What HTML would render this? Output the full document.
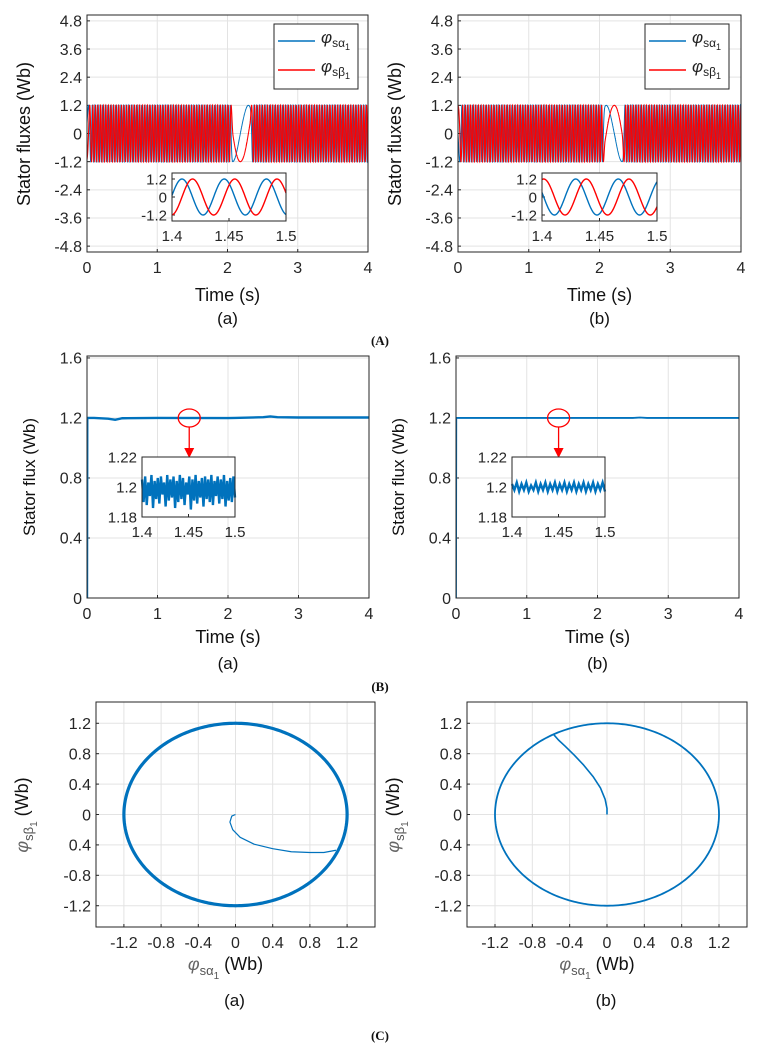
<!DOCTYPE html>
<html><head><meta charset="utf-8">
<style>
html,body{margin:0;padding:0;background:#fff;}
svg{display:block;font-family:"Liberation Sans",sans-serif;}
</style></head>
<body>
<svg id="fig" width="761" height="1047" viewBox="0 0 761 1047" xmlns="http://www.w3.org/2000/svg"></svg>
<script>
// ---------- data ----------
const timeTicks = [0, 1, 2, 3, 4];
const fluxTicksA = [-4.8, -3.6, -2.4, -1.2, 0, 1.2, 2.4, 3.6, 4.8];
const insetTimeTicks = [1.4, 1.45, 1.5];
const insetFluxTicksA = [-1.2, 0, 1.2];
const fluxAmplitude = 1.2;
// electrical frequency knots (Hz) of the stator flux vector for (a) and (b)
const freqKnotTimesA = [0, 0.08, 2.03, 2.08, 2.2, 2.32, 2.37, 4];
const freqKnotValuesA = [6, 27, 27, 2.5, 2.0, 2.5, 27, 27];
const freqKnotTimesB = [0, 0.08, 2.03, 2.08, 2.2, 2.32, 2.37, 4];
const freqKnotValuesB = [6, 27, 27, 2.5, 2.0, 2.5, 27, 27];
const phaseOffsetA = -1.2;
const phaseOffsetB = 1.6;
// magnitude (B)
const magTicks = [0, 0.4, 0.8, 1.2, 1.6];
const magTimes = [0, 0.004, 0.1, 0.3, 0.4, 0.5, 1.0, 2.0, 2.1, 2.5, 2.6, 2.7, 3.0, 4.0];
const magValuesA = [0, 1.2, 1.2, 1.195, 1.188, 1.198, 1.2, 1.199, 1.2, 1.205, 1.21, 1.205, 1.203, 1.203];
const magValuesB = [0, 1.2, 1.2, 1.2, 1.2, 1.2, 1.2, 1.2, 1.2, 1.2, 1.203, 1.2, 1.2, 1.2];
const insetMagTicks = [1.18, 1.2, 1.22];
const insetNoiseA = [1.205,1.19,1.207,1.188,1.203,1.194,1.208,1.186,1.204,1.192,1.206,1.189,1.207,1.195,1.203,1.187,1.208,1.191,1.205,1.193,1.207,1.186,1.204,1.19,1.208,1.192,1.206,1.188,1.203,1.195,1.207,1.185,1.205,1.191,1.208,1.189,1.204,1.193,1.206,1.187,1.207,1.192,1.205,1.19,1.208,1.188,1.204,1.194,1.207,1.189,1.205,1.192,1.208,1.187,1.204,1.191,1.206,1.19,1.207,1.193];
const insetNoiseB = [1.202,1.198,1.203,1.197,1.202,1.198,1.203,1.197,1.201,1.198,1.203,1.197,1.202,1.198,1.203,1.197,1.202,1.198,1.203,1.197,1.202,1.198,1.203,1.197,1.202,1.198,1.203,1.197,1.202,1.198,1.203,1.197,1.202,1.198,1.203,1.197,1.202,1.198,1.203,1.197];
// trajectory (C)
const trajTicksX = [-1.2, -0.8, -0.4, 0, 0.4, 0.8, 1.2];
const trajTicksY = [-1.2, -0.8, -0.4, 0, 0.4, 0.8, 1.2];
const trajTickLabelsY = ["-1.2", "-0.8", "0.4", "0", "0.4", "0.8", "1.2"];
const steadyRadius = 1.2;
const transientXA = [0, -0.04, -0.06, -0.03, 0.05, 0.2, 0.4, 0.6, 0.8, 0.95, 1.08];
const transientYA = [0, -0.02, -0.1, -0.2, -0.3, -0.39, -0.45, -0.49, -0.5, -0.5, -0.47];
const transientXB = [0, 0.0, -0.02, -0.07, -0.15, -0.25, -0.35, -0.45, -0.52, -0.57];
const transientYB = [0, 0.08, 0.2, 0.35, 0.5, 0.65, 0.78, 0.9, 0.98, 1.05];

// ---------- helpers ----------
const NS = "http://www.w3.org/2000/svg";
const svg = document.getElementById("fig");
function mk(tag, attrs, parent) {
  const e = document.createElementNS(NS, tag);
  for (const k in attrs) e.setAttribute(k, attrs[k]);
  (parent || svg).appendChild(e);
  return e;
}
function lin(d0, d1, r0, r1) { return v => r0 + (v - d0) * (r1 - r0) / (d1 - d0); }
function interp(xs, ys, x) {
  for (let i = 0; i < xs.length - 1; i++) {
    if (x <= xs[i + 1]) { const f = (x - xs[i]) / (xs[i + 1] - xs[i]); return ys[i] + f * (ys[i + 1] - ys[i]); }
  }
  return ys[ys.length - 1];
}
function pts(xs, ys, sx, sy) { return xs.map((x, i) => sx(x).toFixed(2) + "," + sy(ys[i]).toFixed(2)).join(" "); }
const BLUE = "#0072BD", RED = "#FF0000";

function axes(name, L, R, T, B, xd, yd, xt, yt, ytl, fs, xlabels, gridOn) {
  const g = mk("g", {});
  
  
  const sx = lin(xd[0], xd[1], L, R), sy = lin(yd[0], yd[1], B, T);
  mk("rect", {x: L, y: T, width: R - L, height: B - T, fill: "#fff"}, g);
  if (gridOn) {
    xt.forEach(v => { const l = mk("line", {x1: sx(v), x2: sx(v), y1: T, y2: B, stroke: "#e3e3e3", "stroke-width": 1}, g);
        });
    yt.forEach(v => { const l = mk("line", {x1: L, x2: R, y1: sy(v), y2: sy(v), stroke: "#e3e3e3", "stroke-width": 1}, g);
        });
  }
  xt.forEach((v, i) => {
    const t = mk("text", {x: sx(v), y: B + fs + 5, "font-size": fs, "text-anchor": "middle", fill: "#262626"}, g);
    t.textContent = xlabels ? xlabels[i] : String(v);
     
    mk("line", {x1: sx(v), x2: sx(v), y1: B, y2: B - 3, stroke: "#262626"}, g);
  });
  yt.forEach((v, i) => {
    const t = mk("text", {x: L - 5, y: sy(v) + fs * 0.36, "font-size": fs, "text-anchor": "end", fill: "#262626"}, g);
    t.textContent = ytl ? ytl[i] : String(v);
     
    mk("line", {x1: L, x2: L + 3, y1: sy(v), y2: sy(v), stroke: "#262626"}, g);
  });
  return {g, sx, sy, L, R, T, B};
}
function frame(ax) {
  const r = mk("rect", {x: ax.L, y: ax.T, width: ax.R - ax.L, height: ax.B - ax.T, fill: "none", stroke: "#262626", "stroke-width": 1}, ax.g);
   
}
function clipFor(ax, id) {
  const c = mk("clipPath", {id: id});
  mk("rect", {x: ax.L, y: ax.T, width: ax.R - ax.L, height: ax.B - ax.T}, c);
  return "url(#" + id + ")";
}
function text(x, y, s, fs, name, extra) {
  const t = mk("text", Object.assign({x: x, y: y, "font-size": fs, "text-anchor": "middle", fill: "#111"}, extra || {}));
  t.textContent = s;
  
  
  return t;
}
function phiLabel(x, y, sub, name, rotate) {
  const g = mk("g", rotate ? {transform: "rotate(-90 " + x + " " + y + ")"} : {});
  
  
  const t = mk("text", {x: x, y: y, "font-size": 18, fill: "#111", "text-anchor": "middle"}, g);
  const a = mk("tspan", {"font-style": "italic", fill: "#666"}, t); a.textContent = "φ";
  const b = mk("tspan", {"font-size": 13, dy: 5, fill: "#555"}, t); b.textContent = "s" + sub;
  const c = mk("tspan", {"font-size": 10, dy: 4, fill: "#555"}, t); c.textContent = "1";
  const d = mk("tspan", {dy: -9, "font-size": 18}, t); d.textContent = " (Wb)";
  return g;
}

// ---------- Panel A ----------
function phaseAt(tk, fk, off, t) {
  let th = off, step = 0.0005;
  for (let s = 0; s < t; s += step) th += 2 * Math.PI * interp(tk, fk, s) * Math.min(step, t - s);
  return th;
}
function panelA(tag, L, R, insL, insR, tk, fk, off) {
  const ax = axes("flux-axes-" + tag, L, R, 15, 252, [0, 4], [-5.05, 5.05], timeTicks, fluxTicksA, null, 16, null, true);
  const cp = clipFor(ax, "clipA" + tag);
  const N = 8000; let th = off; const tb = [], vb = [], vr = [];
  for (let i = 0; i <= N; i++) {
    const t = 4 * i / N;
    if (i > 0) th += 2 * Math.PI * interp(tk, fk, t) * (4 / N);
    tb.push(t); vb.push(fluxAmplitude * Math.cos(th)); vr.push(fluxAmplitude * Math.sin(th));
  }
  const pb = mk("polyline", {points: pts(tb, vb, ax.sx, ax.sy), fill: "none", stroke: BLUE, "stroke-width": 1, "clip-path": cp}, ax.g);
   
  const pr = mk("polyline", {points: pts(tb, vr, ax.sx, ax.sy), fill: "none", stroke: RED, "stroke-width": 1.1, "clip-path": cp}, ax.g);
   
  frame(ax);
  const lg = mk("g", {}, ax.g);
   
  mk("rect", {x: L + 187, y: 24, width: 84, height: 65, fill: "#fff", stroke: "#262626"}, lg);
  [[BLUE, 41, "α", "legend-entry-alpha"], [RED, 70, "β", "legend-entry-beta"]].forEach(e => {
    const eg = mk("g", {}, lg);
     
    mk("line", {x1: L + 191, x2: L + 228, y1: e[1], y2: e[1], stroke: e[0], "stroke-width": 1.5}, eg);
    const t = mk("text", {x: L + 234, y: e[1] + 2, "font-size": 17, fill: "#222"}, eg);
    const a = mk("tspan", {"font-style": "italic"}, t); a.textContent = "φ";
    const b = mk("tspan", {"font-size": 12, dy: 4}, t); b.textContent = "s" + e[2];
    const c = mk("tspan", {"font-size": 9, dy: 3}, t); c.textContent = "1";
  });
  const ia = axes("inset-flux-axes-" + tag, insL, insR, 173, 221, [1.4, 1.5], [-1.6, 1.6], insetTimeTicks, insetFluxTicksA, null, 15, ["1.4", "1.45", "1.5"], false);
  const th0 = phaseAt(tk, fk, off, 1.4);
  const it = [], ib = [], ir = [];
  for (let i = 0; i <= 300; i++) {
    const t = 1.4 + 0.1 * i / 300; const th2 = th0 + 2 * Math.PI * 27 * (t - 1.4);
    it.push(t); ib.push(fluxAmplitude * Math.cos(th2)); ir.push(fluxAmplitude * Math.sin(th2));
  }
  const q1 = mk("polyline", {points: pts(it, ib, ia.sx, ia.sy), fill: "none", stroke: BLUE, "stroke-width": 1.4}, ia.g);
   
  const q2 = mk("polyline", {points: pts(it, ir, ia.sx, ia.sy), fill: "none", stroke: RED, "stroke-width": 1.4}, ia.g);
   
  frame(ia);
  const cx = (L + R) / 2;
  text(L - 57, 134, "Stator fluxes (Wb)", 18, "y-axis-title", {transform: "rotate(-90 " + (L - 57) + " 134)"});
  text(cx, 301, "Time (s)", 18, "x-axis-title");
  text(cx, 324, tag === "a" ? "(a)" : "(b)", 17, "subfigure-label-" + tag);
}
panelA("a", 87, 368, 172, 286, freqKnotTimesA, freqKnotValuesA, phaseOffsetA);
panelA("b", 458, 741, 542, 657, freqKnotTimesB, freqKnotValuesB, phaseOffsetB);
text(380, 345, "(A)", 13, "section-label-A", {"font-family": "Liberation Serif", "font-weight": "bold"});

// ---------- Panel B ----------
function panelB(tag, L, R, insL, insR, vals, noise, lw) {
  const ax = axes("magnitude-axes-" + tag, L, R, 356, 598, [0, 4], [0, 1.613], timeTicks, magTicks, null, 16, null, true);
  const cp = clipFor(ax, "clipB" + tag);
  const p = mk("polyline", {points: pts(magTimes, vals, ax.sx, ax.sy), fill: "none", stroke: BLUE, "stroke-width": lw, "clip-path": cp}, ax.g);
   
  frame(ax);
  const ccx = ax.sx(1.45), ccy = ax.sy(1.2);
  const c = mk("ellipse", {cx: ccx, cy: ccy, rx: 11, ry: 9, fill: "none", stroke: RED, "stroke-width": 1.3}, ax.g);
   
  const ar = mk("line", {x1: ccx, x2: ccx, y1: ccy + 9, y2: 450, stroke: RED, "stroke-width": 1.3}, ax.g);
   
  mk("polygon", {points: (ccx - 5) + ",448 " + (ccx + 5) + ",448 " + ccx + ",458", fill: RED}, ax.g);
  const ia = axes("inset-magnitude-axes-" + tag, insL, insR, 457, 517, [1.4, 1.5], [1.18, 1.22], insetTimeTicks, insetMagTicks, null, 15, ["1.4", "1.45", "1.5"], false);
  const nt = noise.map((v, i) => 1.4 + 0.1 * i / (noise.length - 1));
  const q = mk("polyline", {points: pts(nt, noise, ia.sx, ia.sy), fill: "none", stroke: BLUE, "stroke-width": 2.4}, ia.g);
   
  frame(ia);
  text(L - 52, 477, "Stator flux (Wb)", 17, "y-axis-title", {transform: "rotate(-90 " + (L - 52) + " 477)"});
  text((L + R) / 2, 643, "Time (s)", 18, "x-axis-title");
  text((L + R) / 2, 669, tag === "a" ? "(a)" : "(b)", 17, "subfigure-label-" + tag);
}
panelB("a", 87, 369, 142, 235, magValuesA, insetNoiseA, 2.4);
panelB("b", 456, 739, 512, 605, magValuesB, insetNoiseB, 1.8);
text(380, 691, "(B)", 13, "section-label-B", {"font-family": "Liberation Serif", "font-weight": "bold"});

// ---------- Panel C ----------
function panelC(tag, L, R, tx, ty, circW, trW) {
  const ax = axes("trajectory-axes-" + tag, L, R, 702, 927, [-1.5, 1.5], [-1.48, 1.48], trajTicksX, trajTicksY, trajTickLabelsY, 16, null, true);
  const ang = [], cxs = [], cys = [];
  for (let i = 0; i <= 360; i++) { ang.push(i); }
  ang.forEach(a => { cxs.push(steadyRadius * Math.cos(a * Math.PI / 180)); cys.push(steadyRadius * Math.sin(a * Math.PI / 180)); });
  const c = mk("polyline", {points: pts(cxs, cys, ax.sx, ax.sy), fill: "none", stroke: BLUE, "stroke-width": circW}, ax.g);
   
  const t = mk("polyline", {points: pts(tx, ty, ax.sx, ax.sy), fill: "none", stroke: BLUE, "stroke-width": trW, "stroke-linejoin": "round"}, ax.g);
   
  frame(ax);
  phiLabel(L - 68, 815, "β", "y-axis-title", true);
  phiLabel((L + R) / 2 - 10, 970, "α", "x-axis-title", false);
  text((L + R) / 2 - 1, 1006, tag === "a" ? "(a)" : "(b)", 17, "subfigure-label-" + tag);
}
panelC("a", 96, 375, transientXA, transientYA, 3.2, 1.2);
panelC("b", 467, 747, transientXB, transientYB, 1.8, 1.6);
text(380, 1040, "(C)", 13, "section-label-C", {"font-family": "Liberation Serif", "font-weight": "bold"});
</script>
</body></html>
